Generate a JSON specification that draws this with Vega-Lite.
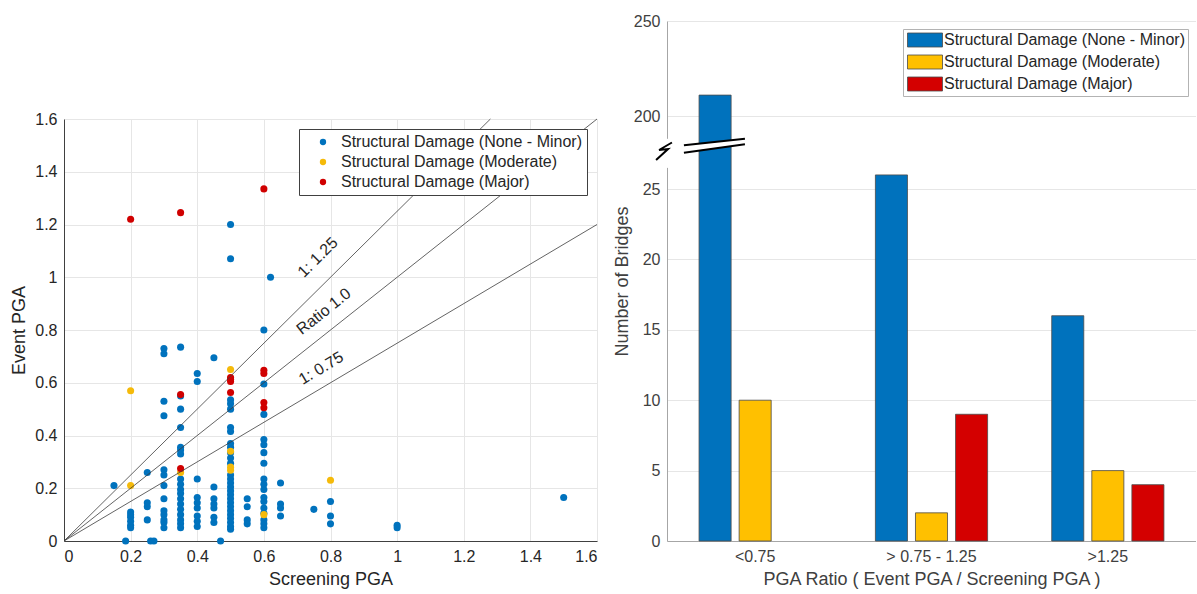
{
  "$schema": "https://vega.github.io/schema/vega-lite/v6.json",
  "background": "white",
  "padding": {"left": 10, "top": 13, "right": 0, "bottom": 5},
  "config": {
    "font": "Liberation Sans",
    "view": {"stroke": null},
    "axis": {"labelFontSize": 16, "titleFontSize": 18, "labelColor": "#262626", "titleColor": "#262626", "titleFontWeight": "normal", "gridColor": "#e6e6e6", "ticks": false, "labelPadding": 7, "titlePadding": 6},
    "legend": {"labelFontSize": 16, "labelColor": "#262626", "labelFont": "Liberation Sans", "labelLimit": 400}
  },
  "spacing": 14,
  "resolve": {"scale": {"color": "independent"}, "legend": {"color": "independent"}},
  "hconcat": [
    {
      "spacing": 20,
      "resolve": {"scale": {"color": "independent"}, "legend": {"color": "independent"}},
      "vconcat": [
        {
          "width": 533,
          "height": 70,
          "data": {"values": []},
          "mark": {"type": "point", "opacity": 0},
          "encoding": {}
        },
        {
          "width": 533,
          "height": 422,
          "layer": [
            {
              "data": {"values": [
                {"screening_pga": 0.15, "event_pga": 0.21, "damage": "None - Minor"},
                {"screening_pga": 0.185, "event_pga": 0, "damage": "None - Minor"},
                {"screening_pga": 0.2, "event_pga": 0.11, "damage": "None - Minor"},
                {"screening_pga": 0.2, "event_pga": 0.1, "damage": "None - Minor"},
                {"screening_pga": 0.2, "event_pga": 0.09, "damage": "None - Minor"},
                {"screening_pga": 0.2, "event_pga": 0.075, "damage": "None - Minor"},
                {"screening_pga": 0.2, "event_pga": 0.06, "damage": "None - Minor"},
                {"screening_pga": 0.2, "event_pga": 0.05, "damage": "None - Minor"},
                {"screening_pga": 0.25, "event_pga": 0.26, "damage": "None - Minor"},
                {"screening_pga": 0.25, "event_pga": 0.145, "damage": "None - Minor"},
                {"screening_pga": 0.25, "event_pga": 0.13, "damage": "None - Minor"},
                {"screening_pga": 0.25, "event_pga": 0.08, "damage": "None - Minor"},
                {"screening_pga": 0.26, "event_pga": 0, "damage": "None - Minor"},
                {"screening_pga": 0.27, "event_pga": 0, "damage": "None - Minor"},
                {"screening_pga": 0.3, "event_pga": 0.73, "damage": "None - Minor"},
                {"screening_pga": 0.3, "event_pga": 0.71, "damage": "None - Minor"},
                {"screening_pga": 0.3, "event_pga": 0.53, "damage": "None - Minor"},
                {"screening_pga": 0.3, "event_pga": 0.475, "damage": "None - Minor"},
                {"screening_pga": 0.3, "event_pga": 0.27, "damage": "None - Minor"},
                {"screening_pga": 0.3, "event_pga": 0.25, "damage": "None - Minor"},
                {"screening_pga": 0.3, "event_pga": 0.21, "damage": "None - Minor"},
                {"screening_pga": 0.3, "event_pga": 0.16, "damage": "None - Minor"},
                {"screening_pga": 0.3, "event_pga": 0.115, "damage": "None - Minor"},
                {"screening_pga": 0.3, "event_pga": 0.1, "damage": "None - Minor"},
                {"screening_pga": 0.3, "event_pga": 0.08, "damage": "None - Minor"},
                {"screening_pga": 0.3, "event_pga": 0.07, "damage": "None - Minor"},
                {"screening_pga": 0.3, "event_pga": 0.05, "damage": "None - Minor"},
                {"screening_pga": 0.35, "event_pga": 0.735, "damage": "None - Minor"},
                {"screening_pga": 0.35, "event_pga": 0.55, "damage": "None - Minor"},
                {"screening_pga": 0.35, "event_pga": 0.5, "damage": "None - Minor"},
                {"screening_pga": 0.35, "event_pga": 0.43, "damage": "None - Minor"},
                {"screening_pga": 0.35, "event_pga": 0.355, "damage": "None - Minor"},
                {"screening_pga": 0.35, "event_pga": 0.345, "damage": "None - Minor"},
                {"screening_pga": 0.35, "event_pga": 0.33, "damage": "None - Minor"},
                {"screening_pga": 0.35, "event_pga": 0.235, "damage": "None - Minor"},
                {"screening_pga": 0.35, "event_pga": 0.215, "damage": "None - Minor"},
                {"screening_pga": 0.35, "event_pga": 0.195, "damage": "None - Minor"},
                {"screening_pga": 0.35, "event_pga": 0.18, "damage": "None - Minor"},
                {"screening_pga": 0.35, "event_pga": 0.16, "damage": "None - Minor"},
                {"screening_pga": 0.35, "event_pga": 0.14, "damage": "None - Minor"},
                {"screening_pga": 0.35, "event_pga": 0.12, "damage": "None - Minor"},
                {"screening_pga": 0.35, "event_pga": 0.1, "damage": "None - Minor"},
                {"screening_pga": 0.35, "event_pga": 0.08, "damage": "None - Minor"},
                {"screening_pga": 0.35, "event_pga": 0.065, "damage": "None - Minor"},
                {"screening_pga": 0.35, "event_pga": 0.05, "damage": "None - Minor"},
                {"screening_pga": 0.4, "event_pga": 0.635, "damage": "None - Minor"},
                {"screening_pga": 0.4, "event_pga": 0.605, "damage": "None - Minor"},
                {"screening_pga": 0.4, "event_pga": 0.235, "damage": "None - Minor"},
                {"screening_pga": 0.4, "event_pga": 0.165, "damage": "None - Minor"},
                {"screening_pga": 0.4, "event_pga": 0.145, "damage": "None - Minor"},
                {"screening_pga": 0.4, "event_pga": 0.125, "damage": "None - Minor"},
                {"screening_pga": 0.4, "event_pga": 0.095, "damage": "None - Minor"},
                {"screening_pga": 0.4, "event_pga": 0.075, "damage": "None - Minor"},
                {"screening_pga": 0.4, "event_pga": 0.055, "damage": "None - Minor"},
                {"screening_pga": 0.45, "event_pga": 0.695, "damage": "None - Minor"},
                {"screening_pga": 0.45, "event_pga": 0.205, "damage": "None - Minor"},
                {"screening_pga": 0.45, "event_pga": 0.16, "damage": "None - Minor"},
                {"screening_pga": 0.45, "event_pga": 0.14, "damage": "None - Minor"},
                {"screening_pga": 0.45, "event_pga": 0.125, "damage": "None - Minor"},
                {"screening_pga": 0.45, "event_pga": 0.09, "damage": "None - Minor"},
                {"screening_pga": 0.45, "event_pga": 0.07, "damage": "None - Minor"},
                {"screening_pga": 0.47, "event_pga": 0, "damage": "None - Minor"},
                {"screening_pga": 0.5, "event_pga": 1.2, "damage": "None - Minor"},
                {"screening_pga": 0.5, "event_pga": 1.07, "damage": "None - Minor"},
                {"screening_pga": 0.5, "event_pga": 0.535, "damage": "None - Minor"},
                {"screening_pga": 0.5, "event_pga": 0.52, "damage": "None - Minor"},
                {"screening_pga": 0.5, "event_pga": 0.5, "damage": "None - Minor"},
                {"screening_pga": 0.5, "event_pga": 0.43, "damage": "None - Minor"},
                {"screening_pga": 0.5, "event_pga": 0.415, "damage": "None - Minor"},
                {"screening_pga": 0.5, "event_pga": 0.37, "damage": "None - Minor"},
                {"screening_pga": 0.5, "event_pga": 0.355, "damage": "None - Minor"},
                {"screening_pga": 0.5, "event_pga": 0.335, "damage": "None - Minor"},
                {"screening_pga": 0.5, "event_pga": 0.315, "damage": "None - Minor"},
                {"screening_pga": 0.5, "event_pga": 0.295, "damage": "None - Minor"},
                {"screening_pga": 0.5, "event_pga": 0.25, "damage": "None - Minor"},
                {"screening_pga": 0.5, "event_pga": 0.235, "damage": "None - Minor"},
                {"screening_pga": 0.5, "event_pga": 0.22, "damage": "None - Minor"},
                {"screening_pga": 0.5, "event_pga": 0.205, "damage": "None - Minor"},
                {"screening_pga": 0.5, "event_pga": 0.19, "damage": "None - Minor"},
                {"screening_pga": 0.5, "event_pga": 0.175, "damage": "None - Minor"},
                {"screening_pga": 0.5, "event_pga": 0.16, "damage": "None - Minor"},
                {"screening_pga": 0.5, "event_pga": 0.145, "damage": "None - Minor"},
                {"screening_pga": 0.5, "event_pga": 0.13, "damage": "None - Minor"},
                {"screening_pga": 0.5, "event_pga": 0.115, "damage": "None - Minor"},
                {"screening_pga": 0.5, "event_pga": 0.1, "damage": "None - Minor"},
                {"screening_pga": 0.5, "event_pga": 0.085, "damage": "None - Minor"},
                {"screening_pga": 0.5, "event_pga": 0.07, "damage": "None - Minor"},
                {"screening_pga": 0.5, "event_pga": 0.055, "damage": "None - Minor"},
                {"screening_pga": 0.5, "event_pga": 0.045, "damage": "None - Minor"},
                {"screening_pga": 0.55, "event_pga": 0.16, "damage": "None - Minor"},
                {"screening_pga": 0.55, "event_pga": 0.13, "damage": "None - Minor"},
                {"screening_pga": 0.55, "event_pga": 0.08, "damage": "None - Minor"},
                {"screening_pga": 0.55, "event_pga": 0.065, "damage": "None - Minor"},
                {"screening_pga": 0.6, "event_pga": 0.8, "damage": "None - Minor"},
                {"screening_pga": 0.6, "event_pga": 0.595, "damage": "None - Minor"},
                {"screening_pga": 0.6, "event_pga": 0.48, "damage": "None - Minor"},
                {"screening_pga": 0.6, "event_pga": 0.385, "damage": "None - Minor"},
                {"screening_pga": 0.6, "event_pga": 0.365, "damage": "None - Minor"},
                {"screening_pga": 0.6, "event_pga": 0.335, "damage": "None - Minor"},
                {"screening_pga": 0.6, "event_pga": 0.295, "damage": "None - Minor"},
                {"screening_pga": 0.6, "event_pga": 0.235, "damage": "None - Minor"},
                {"screening_pga": 0.6, "event_pga": 0.215, "damage": "None - Minor"},
                {"screening_pga": 0.6, "event_pga": 0.195, "damage": "None - Minor"},
                {"screening_pga": 0.6, "event_pga": 0.165, "damage": "None - Minor"},
                {"screening_pga": 0.6, "event_pga": 0.15, "damage": "None - Minor"},
                {"screening_pga": 0.6, "event_pga": 0.125, "damage": "None - Minor"},
                {"screening_pga": 0.6, "event_pga": 0.105, "damage": "None - Minor"},
                {"screening_pga": 0.6, "event_pga": 0.08, "damage": "None - Minor"},
                {"screening_pga": 0.6, "event_pga": 0.065, "damage": "None - Minor"},
                {"screening_pga": 0.6, "event_pga": 0.05, "damage": "None - Minor"},
                {"screening_pga": 0.62, "event_pga": 1.0, "damage": "None - Minor"},
                {"screening_pga": 0.65, "event_pga": 0.22, "damage": "None - Minor"},
                {"screening_pga": 0.65, "event_pga": 0.14, "damage": "None - Minor"},
                {"screening_pga": 0.65, "event_pga": 0.125, "damage": "None - Minor"},
                {"screening_pga": 0.65, "event_pga": 0.095, "damage": "None - Minor"},
                {"screening_pga": 0.75, "event_pga": 0.12, "damage": "None - Minor"},
                {"screening_pga": 0.8, "event_pga": 0.15, "damage": "None - Minor"},
                {"screening_pga": 0.8, "event_pga": 0.095, "damage": "None - Minor"},
                {"screening_pga": 0.8, "event_pga": 0.065, "damage": "None - Minor"},
                {"screening_pga": 1.0, "event_pga": 0.06, "damage": "None - Minor"},
                {"screening_pga": 1.0, "event_pga": 0.05, "damage": "None - Minor"},
                {"screening_pga": 1.5, "event_pga": 0.165, "damage": "None - Minor"},
                {"screening_pga": 0.2, "event_pga": 0.57, "damage": "Moderate"},
                {"screening_pga": 0.2, "event_pga": 0.21, "damage": "Moderate"},
                {"screening_pga": 0.35, "event_pga": 0.26, "damage": "Moderate"},
                {"screening_pga": 0.5, "event_pga": 0.65, "damage": "Moderate"},
                {"screening_pga": 0.5, "event_pga": 0.34, "damage": "Moderate"},
                {"screening_pga": 0.5, "event_pga": 0.28, "damage": "Moderate"},
                {"screening_pga": 0.5, "event_pga": 0.268, "damage": "Moderate"},
                {"screening_pga": 0.6, "event_pga": 0.1, "damage": "Moderate"},
                {"screening_pga": 0.8, "event_pga": 0.23, "damage": "Moderate"},
                {"screening_pga": 0.2, "event_pga": 1.22, "damage": "Major"},
                {"screening_pga": 0.35, "event_pga": 1.245, "damage": "Major"},
                {"screening_pga": 0.6, "event_pga": 1.335, "damage": "Major"},
                {"screening_pga": 0.35, "event_pga": 0.555, "damage": "Major"},
                {"screening_pga": 0.35, "event_pga": 0.275, "damage": "Major"},
                {"screening_pga": 0.5, "event_pga": 0.62, "damage": "Major"},
                {"screening_pga": 0.5, "event_pga": 0.613, "damage": "Major"},
                {"screening_pga": 0.5, "event_pga": 0.605, "damage": "Major"},
                {"screening_pga": 0.5, "event_pga": 0.563, "damage": "Major"},
                {"screening_pga": 0.6, "event_pga": 0.647, "damage": "Major"},
                {"screening_pga": 0.6, "event_pga": 0.635, "damage": "Major"},
                {"screening_pga": 0.6, "event_pga": 0.525, "damage": "Major"},
                {"screening_pga": 0.6, "event_pga": 0.505, "damage": "Major"}
              ]},
              "mark": {"type": "circle", "size": 50, "opacity": 1},
              "encoding": {
                "x": {"field": "screening_pga", "type": "quantitative", "scale": {"domain": [0, 1.6], "nice": false}, "axis": {"values": [0, 0.2, 0.4, 0.6, 0.8, 1, 1.2, 1.4, 1.6], "format": "~g", "title": "Screening PGA", "domainColor": "#404040"}},
                "y": {"field": "event_pga", "type": "quantitative", "scale": {"domain": [0, 1.6], "nice": false}, "axis": {"values": [0, 0.2, 0.4, 0.6, 0.8, 1, 1.2, 1.4, 1.6], "format": "~g", "title": "Event PGA", "domainColor": "#404040"}},
                "color": {"field": "damage", "type": "nominal", "scale": {"domain": ["None - Minor", "Moderate", "Major"], "range": ["#0072BD", "#F5BA0A", "#D00000"]},
                  "legend": {"title": null, "orient": "top-right", "offset": 10, "symbolType": "circle", "symbolSize": 40, "padding": 5, "rowPadding": 4, "symbolOffset": 11, "labelOffset": 10, "strokeColor": "#404040", "fillColor": "white", "labelExpr": "'Structural Damage (' + datum.label + ')'"}}
              }
            },
            {
              "data": {"values": [
                {"ratio": "1:1.25", "screening_pga": 0, "event_pga": 0},
                {"ratio": "1:1.25", "screening_pga": 1.28, "event_pga": 1.6},
                {"ratio": "1:1.0", "screening_pga": 0, "event_pga": 0},
                {"ratio": "1:1.0", "screening_pga": 1.6, "event_pga": 1.6},
                {"ratio": "1:0.75", "screening_pga": 0, "event_pga": 0},
                {"ratio": "1:0.75", "screening_pga": 1.6, "event_pga": 1.2}
              ]},
              "mark": {"type": "line", "color": "#3c3c3c", "strokeWidth": 0.8},
              "encoding": {
                "x": {"field": "screening_pga", "type": "quantitative"},
                "y": {"field": "event_pga", "type": "quantitative"},
                "detail": {"field": "ratio"}
              }
            },
            {
              "data": {"values": [{"label": "1: 1.25", "screening_pga": 0.762, "event_pga": 1.075}]},
              "mark": {"type": "text", "angle": -44.7, "fontSize": 16, "color": "#262626"},
              "encoding": {"x": {"field": "screening_pga", "type": "quantitative"}, "y": {"field": "event_pga", "type": "quantitative"}, "text": {"field": "label"}}
            },
            {
              "data": {"values": [{"label": "Ratio 1.0", "screening_pga": 0.78, "event_pga": 0.87}]},
              "mark": {"type": "text", "angle": -38.4, "fontSize": 16, "color": "#262626"},
              "encoding": {"x": {"field": "screening_pga", "type": "quantitative"}, "y": {"field": "event_pga", "type": "quantitative"}, "text": {"field": "label"}}
            },
            {
              "data": {"values": [{"label": "1: 0.75", "screening_pga": 0.772, "event_pga": 0.655}]},
              "mark": {"type": "text", "angle": -30.7, "fontSize": 16, "color": "#262626"},
              "encoding": {"x": {"field": "screening_pga", "type": "quantitative"}, "y": {"field": "event_pga", "type": "quantitative"}, "text": {"field": "label"}}
            }
          ]
        }
      ]
    },
    {
      "width": 529,
      "height": 520,
      "resolve": {"scale": {"x": "independent"}},
      "layer": [
        {
          "data": {"values": [
            {"pga_ratio": "<0.75", "damage": "None - Minor", "bridges": 211},
            {"pga_ratio": "<0.75", "damage": "Moderate", "bridges": 10},
            {"pga_ratio": "> 0.75 - 1.25", "damage": "None - Minor", "bridges": 26},
            {"pga_ratio": "> 0.75 - 1.25", "damage": "Moderate", "bridges": 2},
            {"pga_ratio": "> 0.75 - 1.25", "damage": "Major", "bridges": 9},
            {"pga_ratio": ">1.25", "damage": "None - Minor", "bridges": 16},
            {"pga_ratio": ">1.25", "damage": "Moderate", "bridges": 5},
            {"pga_ratio": ">1.25", "damage": "Major", "bridges": 4}
          ]},
          "mark": {"type": "bar", "stroke": "#4a4a4a", "strokeWidth": 0.8},
          "encoding": {
            "x": {"field": "pga_ratio", "type": "nominal", "sort": ["<0.75", "> 0.75 - 1.25", ">1.25"], "scale": {"paddingInner": 0, "paddingOuter": 0},
              "axis": {"labelAngle": 0, "title": "PGA Ratio ( Event PGA / Screening PGA )", "domainColor": "#a6a6a6", "labelColor": "#404040", "titleColor": "#404040"}},
            "xOffset": {"field": "damage", "type": "nominal", "scale": {"domain": ["None - Minor", "Moderate", "Major"], "paddingInner": 0.2, "paddingOuter": 0.8}},
            "y": {"field": "bridges", "type": "quantitative", "title": "Number of Bridges",
              "scale": {"domain": [0, 27.5, 186, 250], "range": [520, 132.8, 121.6, 0], "nice": false, "zero": false},
              "axis": {"values": [0, 5, 10, 15, 20, 25, 200, 250], "domainColor": "#a6a6a6", "labelColor": "#404040", "titleColor": "#404040", "titlePadding": 2}},
            "color": {"field": "damage", "type": "nominal", "scale": {"domain": ["None - Minor", "Moderate", "Major"], "range": ["#0072BD", "#FFC000", "#D40000"]},
              "legend": {"title": null, "orient": "top-right", "offset": 8, "symbolType": "M-2.5,-1H2.5V1H-2.5Z", "symbolSize": 196, "symbolStrokeColor": "#4a4a4a", "symbolStrokeWidth": 0.8, "padding": 3, "rowPadding": 4, "symbolOffset": 11, "labelOffset": 11, "strokeColor": "#b3b3b3", "fillColor": "white", "labelExpr": "'Structural Damage (' + datum.label + ')'"}}
          }
        },
        {
          "data": {"values": [{"bx": 0.5, "bridges": 188}, {"bx": 0.5, "bridges": 26.5}]},
          "mark": {"type": "line", "color": "white", "strokeWidth": 4},
          "encoding": {"x": {"field": "bx", "type": "quantitative", "scale": {"domain": [0.5, 3.5], "nice": false}, "axis": null}, "y": {"field": "bridges", "type": "quantitative", "title": "Number of Bridges"}}
        },
        {
          "data": {"values": [{"bx": 0.596, "bridges": 95.4}, {"bx": 0.942, "bridges": 186.6}]},
          "mark": {"type": "line", "color": "white", "strokeWidth": 6},
          "encoding": {"x": {"field": "bx", "type": "quantitative", "scale": {"domain": [0.5, 3.5], "nice": false}, "axis": null}, "y": {"field": "bridges", "type": "quantitative", "title": "Number of Bridges"}}
        },
        {
          "data": {"values": [
            {"seg": "upper", "bx": 0.596, "bridges": 147.8}, {"seg": "upper", "bx": 0.942, "bridges": 188.05},
            {"seg": "lower", "bx": 0.596, "bridges": 43.1}, {"seg": "lower", "bx": 0.942, "bridges": 161.9}
          ]},
          "mark": {"type": "line", "color": "black", "strokeWidth": 2},
          "encoding": {"x": {"field": "bx", "type": "quantitative", "scale": {"domain": [0.5, 3.5], "nice": false}, "axis": null}, "y": {"field": "bridges", "type": "quantitative", "title": "Number of Bridges"}, "detail": {"field": "seg"}}
        },
        {
          "data": {"values": [
            {"k": 1, "bx": 0.528, "bridges": 186.05},
            {"k": 2, "bx": 0.455, "bridges": 81.3},
            {"k": 3, "bx": 0.506, "bridges": 95.4},
            {"k": 4, "bx": 0.438, "bridges": 27.06}
          ]},
          "mark": {"type": "line", "color": "black", "strokeWidth": 2},
          "encoding": {"x": {"field": "bx", "type": "quantitative", "scale": {"domain": [0.5, 3.5], "nice": false}, "axis": null}, "y": {"field": "bridges", "type": "quantitative", "title": "Number of Bridges"}, "order": {"field": "k"}}
        }
      ]
    }
  ]
}
